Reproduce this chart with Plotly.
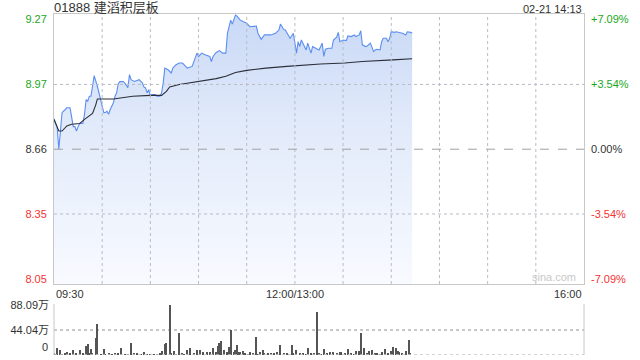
import plotly.graph_objects as go

# ---------------- data ----------------
title_text = "01888 建滔积层板"
stamp_text = "02-21 14:13"
prev_close = 8.66
pct_levels = [7.09, 3.54, 0.0, -3.54, -7.09]

# trading minutes since 09:30 (lunch break removed: 150 = 12:00/13:00)
price_minutes = [0, 2, 3, 4, 5, 7, 8, 10, 11, 12, 13, 14, 15, 16, 18, 19, 20, 21, 22, 23,
                 24, 25, 27, 28, 29, 30, 31, 32, 33, 34, 35, 37, 38, 39, 40, 41, 43, 44, 46, 47,
                 48, 50, 52, 53, 55, 56, 57, 58, 59, 60, 61, 63, 64, 66, 67, 68, 69, 71, 73, 74,
                 76, 78, 80, 82, 83, 86, 87, 89, 90, 92, 94, 97, 98, 99, 101, 103, 105, 107, 108, 110,
                 111, 113, 114, 116, 118, 120, 122, 126, 127, 129, 131, 135, 138, 140, 141, 143, 144, 146, 147, 149,
                 151, 152, 153, 154, 156, 157, 158, 159, 160, 161, 163, 165, 167, 168, 169, 171, 173, 174, 176, 177,
                 178, 180, 182, 183, 185, 187, 188, 190, 191, 192, 194, 195, 197, 198, 199, 200, 201, 203, 204, 205,
                 207, 208, 209, 210, 212, 213, 215, 217, 219, 220, 222, 223]
prices = [8.804, 8.762, 8.660, 8.754, 8.833, 8.848, 8.856, 8.856, 8.817, 8.767, 8.767, 8.746, 8.767, 8.782, 8.782, 8.825, 8.895, 8.887, 8.911, 8.911,
          8.958, 9.008, 8.958, 8.927, 8.895, 8.856, 8.833, 8.834, 8.839, 8.825, 8.848, 8.880, 8.911, 8.927, 8.970, 8.980, 8.980, 8.974, 8.951, 9.013,
          8.989, 8.981, 8.984, 8.989, 8.974, 8.955, 8.950, 8.927, 8.942, 8.911, 8.919, 8.919, 8.911, 8.911, 8.927, 8.974, 9.044, 9.036, 9.021, 9.044,
          9.060, 9.068, 9.068, 9.052, 9.044, 9.052, 9.075, 9.115, 9.099, 9.115, 9.107, 9.099, 9.075, 9.099, 9.118, 9.127, 9.115, 9.115, 9.209, 9.271,
          9.252, 9.295, 9.290, 9.271, 9.263, 9.256, 9.240, 9.243, 9.209, 9.180, 9.201, 9.201, 9.209, 9.224, 9.252, 9.227, 9.224, 9.201, 9.185, 9.209,
          9.115, 9.169, 9.146, 9.177, 9.146, 9.130, 9.162, 9.138, 9.115, 9.146, 9.138, 9.130, 9.162, 9.099, 9.133, 9.138, 9.138, 9.177, 9.190, 9.213,
          9.169, 9.177, 9.174, 9.196, 9.193, 9.201, 9.193, 9.201, 9.221, 9.154, 9.146, 9.149, 9.162, 9.138, 9.122, 9.130, 9.133, 9.130, 9.169, 9.185,
          9.185, 9.169, 9.185, 9.216, 9.213, 9.216, 9.213, 9.209, 9.201, 9.216, 9.213, 9.209]

avg_minutes = [0, 3, 5, 8, 11, 16, 19, 22, 24, 26, 27, 37, 49, 60, 67, 70, 72, 78, 91, 101,
               107, 113, 120, 126, 132, 145, 151, 166, 181, 192, 211, 223]
avg_prices = [8.801, 8.746, 8.746, 8.770, 8.778, 8.782, 8.801, 8.817, 8.829, 8.870, 8.898, 8.898, 8.911, 8.915, 8.915, 8.934,
              8.955, 8.966, 8.981, 8.994, 9.005, 9.023, 9.033, 9.039, 9.044, 9.052, 9.056, 9.063, 9.068, 9.075, 9.083, 9.088]

vol_minutes = [0, 1, 2, 4, 5, 7, 8, 10, 12, 14, 16, 18, 20, 21, 22, 23, 24, 26, 27, 29,
               31, 32, 34, 36, 38, 40, 42, 44, 46, 48, 50, 52, 54, 56, 58, 60, 62, 64, 66, 67,
               69, 70, 72, 73, 75, 76, 78, 80, 81, 83, 85, 87, 89, 91, 93, 95, 97, 99, 101, 102,
               103, 104, 106, 108, 109, 110, 112, 113, 114, 115, 116, 118, 119, 121, 122, 124, 126, 127, 128, 130,
               131, 133, 135, 137, 139, 141, 143, 145, 146, 148, 149, 151, 153, 155, 157, 158, 160, 162, 164, 165,
               166, 168, 170, 172, 174, 176, 178, 179, 181, 183, 185, 187, 188, 190, 191, 193, 195, 196, 198, 200,
               201, 203, 204, 206, 208, 210, 211, 213, 214, 215, 217, 219, 221, 222]
volumes = [4.0, 2.5, 12.9, 8.2, 2.0, 3.5, 5.3, 4.0, 8.2, 4.0, 8.2, 3.5, 15.3, 18.8, 3.0, 10.0, 3.0, 29.4, 54.0, 2.0,
           11.0, 2.5, 3.0, 2.0, 3.0, 4.0, 11.7, 2.0, 2.5, 20.6, 4.0, 3.0, 2.0, 6.0, 2.0, 2.0, 1.5, 2.0, 3.0, 7.0,
           18.8, 21.7, 88.09, 4.0, 7.0, 2.0, 39.3, 4.0, 2.0, 8.2, 11.7, 4.0, 9.4, 8.2, 6.0, 5.3, 5.3, 11.7, 5.3, 15.9,
           21.7, 24.7, 8.2, 5.3, 14.0, 44.0, 5.3, 8.2, 17.0, 5.3, 6.0, 7.0, 3.0, 2.5, 5.3, 3.0, 32.3, 2.5, 5.3, 8.2,
           4.0, 3.0, 3.0, 4.0, 5.3, 17.0, 4.0, 3.0, 2.0, 17.0, 4.0, 8.2, 4.0, 3.0, 2.5, 13.0, 4.0, 3.0, 74.6, 3.0,
           2.0, 11.0, 4.0, 5.3, 5.3, 4.0, 6.0, 6.0, 4.0, 10.0, 4.0, 2.5, 7.0, 7.0, 38.2, 11.7, 4.0, 7.0, 8.2, 4.0,
           4.0, 2.5, 5.3, 11.0, 4.0, 7.0, 14.0, 13.0, 7.0, 5.3, 3.0, 7.0, 25.9, 3.0]
vol_tick_values = [88.09, 44.04]
vol_tick_labels = ["88.09万", "44.04万"]

x_labels = ["09:30", "12:00/13:00", "16:00"]
x_label_minutes = [0, 150, 330]
session_minutes = 330
grid_step = 30

# ---------------- styling ----------------
GREEN = "#1aa81a"
RED = "#f23333"
DARK = "#333333"
GRID = "#c8c8c8"
GRID_IN = "#b8bcc4"
FONT = "Liberation Sans, Arial, Noto Sans CJK SC, sans-serif"


def level_color(p):
    if p > 0:
        return GREEN
    if p < 0:
        return RED
    return DARK


price_ticks = [prev_close * (1 + p / 100) for p in pct_levels]
left_text = [f"<span style='color:{level_color(p)}'>{v:.2f}</span>" for p, v in zip(pct_levels, price_ticks)]
right_text = [f"<span style='color:{level_color(p)}'>{'+' if p > 0 else ''}{p:.2f}%</span>" for p in pct_levels]

y_lo, y_hi = 8.022, 9.300

fig = go.Figure()

fig.add_trace(go.Scatter(
    x=price_minutes, y=prices, mode="lines",
    line=dict(color="#5b8ef0", width=1.1),
    fill="tozeroy",
    fillgradient=dict(type="vertical",
                      colorscale=[[0, "rgba(248,250,255,1)"], [0.6, "rgba(225,234,250,1)"], [1, "rgba(200,216,246,1)"]],
                      start=y_lo, stop=y_hi),
    xaxis="x", yaxis="y", hoverinfo="skip", showlegend=False))

fig.add_trace(go.Scatter(
    x=avg_minutes, y=avg_prices, mode="lines",
    line=dict(color="#2b2f3a", width=1.1),
    xaxis="x", yaxis="y", hoverinfo="skip", showlegend=False))

# invisible trace to activate right axis
fig.add_trace(go.Scatter(x=[0], y=[prev_close], mode="markers", marker=dict(opacity=0),
                         xaxis="x", yaxis="y2", hoverinfo="skip", showlegend=False))

fig.add_trace(go.Bar(
    x=vol_minutes, y=volumes, width=0.7,
    marker=dict(color="#555555", line=dict(width=0)),
    xaxis="x2", yaxis="y3", hoverinfo="skip", showlegend=False))

main_bottom = 0.2082
vol_top = 0.1496

fig.update_layout(
    width=640, height=360,
    margin=dict(l=54, r=56, t=14, b=5),
    paper_bgcolor="white", plot_bgcolor="white",
    font=dict(family=FONT, size=11, color=DARK),
    bargap=0,
    xaxis=dict(domain=[0, 1], range=[0, session_minutes], anchor="y",
               showticklabels=False, showgrid=False,
               showline=True, linecolor=GRID, linewidth=1, mirror=True,
               zeroline=False, ticks=""),
    yaxis=dict(domain=[main_bottom, 1], range=[y_lo, y_hi], anchor="x",
               tickvals=price_ticks, ticktext=left_text, ticks="",
               showgrid=False, zeroline=False,
               showline=True, linecolor=GRID, linewidth=1, mirror=True,
               tickfont=dict(size=11), ticklabelstandoff=4),
    yaxis2=dict(domain=[main_bottom, 1], range=[y_lo, y_hi], overlaying="y", side="right", anchor="x",
                tickvals=price_ticks, ticktext=right_text, ticks="",
                showgrid=False, zeroline=False, showline=False,
                tickfont=dict(size=11), ticklabelstandoff=6),
    xaxis2=dict(domain=[0, 1], range=[0, session_minutes], anchor="y3",
                showticklabels=False, showgrid=False, zeroline=False, ticks="",
                showline=False),
    yaxis3=dict(domain=[0, vol_top], range=[0, vol_tick_values[0] * 51 / 50.3], anchor="x2",
                tickvals=vol_tick_values, ticktext=vol_tick_labels,
                ticks="", showgrid=True, gridcolor=GRID, griddash="dot", gridwidth=1.5,
                zeroline=False, showline=False, tickfont=dict(size=11), ticklabelstandoff=4),
)

# vertical grid lines of the price panel (drawn above the fill)
for m in range(grid_step, session_minutes, grid_step):
    fig.add_shape(type="line", xref="x", yref="y domain", x0=m, x1=m, y0=0, y1=1, layer="above",
                  line=dict(color=GRID_IN, width=1, dash="dot"))

# horizontal grid lines of the price panel
for p, v in zip(pct_levels, price_ticks):
    if abs(p) > 5:
        continue
    if p == 0:
        fig.add_shape(type="line", xref="x domain", yref="y", x0=0, x1=1, y0=v, y1=v, layer="above",
                      line=dict(color="#a0a0a0", width=1, dash="dash"))
    else:
        fig.add_shape(type="line", xref="x domain", yref="y", x0=0, x1=1, y0=v, y1=v, layer="above",
                      line=dict(color=GRID_IN, width=1, dash="dot"))

# volume panel borders
fig.add_shape(type="line", xref="x2 domain", yref="y3 domain", x0=0, x1=0, y0=0, y1=1,
              line=dict(color=GRID, width=1))
fig.add_shape(type="line", xref="x2 domain", yref="y3 domain", x0=1, x1=1, y0=0, y1=1,
              line=dict(color=GRID, width=1))
fig.add_shape(type="line", xref="x2 domain", yref="y3", x0=0, x1=1, y0=0, y1=0,
              line=dict(color=GRID, width=1.5, dash="dot"))

# titles
fig.add_annotation(text=title_text, xref="paper", yref="paper", x=0, y=1, xanchor="left", yanchor="bottom",
                   showarrow=False, font=dict(size=13, color=DARK, family=FONT), xshift=-2, yshift=-3)
fig.add_annotation(text=stamp_text, xref="paper", yref="paper", x=1, y=1, xanchor="right", yanchor="bottom",
                   showarrow=False, font=dict(size=11, color=DARK, family=FONT), yshift=-3)

# time labels
anchors = ["left", "center", "right"]
for lab, m, a in zip(x_labels, x_label_minutes, anchors):
    fig.add_annotation(text=lab, xref="x", yref="y domain", x=m, y=0, xanchor=a, yanchor="top",
                       showarrow=False, font=dict(size=11, color=DARK, family=FONT), yshift=-2)

# volume zero label
fig.add_annotation(text="0", xref="paper", yref="y3", x=0, y=0, xanchor="right", yanchor="bottom",
                   showarrow=False, font=dict(size=11, color=DARK, family=FONT), xshift=-4, yshift=0)

# watermark
fig.add_annotation(text="sina.com", xref="paper", yref="y domain", x=1, y=0, xanchor="right", yanchor="bottom",
                   showarrow=False, font=dict(size=11, color="#c8c8c8", family=FONT), xshift=-6, yshift=-1)

fig.write_html("out.html")
